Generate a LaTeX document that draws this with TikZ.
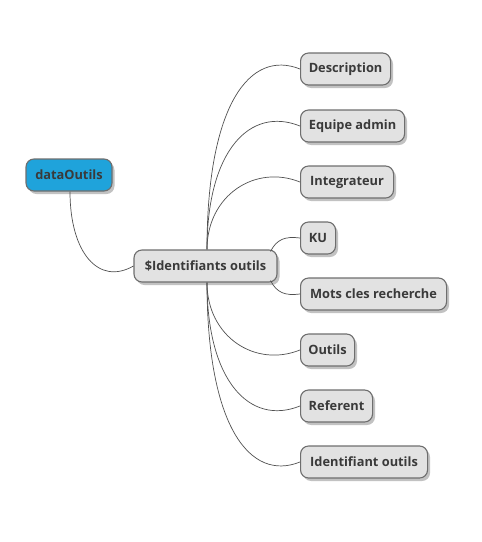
\documentclass[tikz,border=0pt]{standalone}
\usepackage{fontspec}
\setmainfont{Open Sans}
\usetikzlibrary{shadows}
\definecolor{boxfill}{HTML}{E2E2E2}
\definecolor{boxline}{HTML}{6E6E6E}
\definecolor{rootfill}{HTML}{1FA3DB}
\definecolor{txt}{HTML}{3A3A3A}
\definecolor{wire}{HTML}{505050}
\begin{document}
\begin{tikzpicture}[x=1pt,y=-1pt,
  mbox/.style={draw=boxline, line width=1.1pt, fill=boxfill, rounded corners=8pt,
    minimum height=32pt, inner xsep=0pt, inner ysep=0pt, text=txt,
    font=\fontsize{12.8}{15}\selectfont\bfseries,
    drop shadow={shadow xshift=2.5pt, shadow yshift=-3pt, opacity=0.4, fill=black!60}},
  child/.style={mbox, anchor=west},
  wirel/.style={draw=wire, line width=0.7pt}]
\useasboundingbox (0,0) rectangle (482,542);
\node[mbox, fill=rootfill, minimum width=86pt] (data) at (69,175) {dataOutils};
\node[mbox, minimum width=143pt] (id) at (205.5,266) {\$Identifiants outils};
\node[child, minimum width=90pt] (c1) at (300,69) {Description};
\node[child, minimum width=104pt] (c2) at (300,126) {Equipe admin};
\node[child, minimum width=93pt] (c3) at (300,182) {Integrateur};
\node[child, minimum width=35pt] (c4) at (300,238) {KU};
\node[child, minimum width=146pt] (c5) at (300,294) {Mots cles recherche};
\node[child, minimum width=54pt] (c6) at (300,350) {Outils};
\node[child, minimum width=72pt] (c7) at (300,406) {Referent};
\node[child, minimum width=127pt] (c8) at (300,462) {Identifiant outils};
\path[wirel] ([xshift=1pt]data.south) .. controls +(0,61) and +(-35,20) .. (id.west);
\path[wirel] ([xshift=1.5pt]id.north) .. controls +(0,-145) and +(-50,-20) .. (c1.west);
\path[wirel] ([xshift=1.5pt]id.north) .. controls +(0,-99) and +(-50,-20) .. (c2.west);
\path[wirel] ([xshift=1.5pt]id.north) .. controls +(0,-54) and +(-45,-18) .. (c3.west);
\path[wirel] ([xshift=-7pt,yshift=-2pt]id.north east) .. controls +(6,-12) and +(-15,-2) .. (c4.west);
\path[wirel] ([xshift=-7pt,yshift=2pt]id.south east) .. controls +(6,12) and +(-15,2) .. (c5.west);
\path[wirel] ([xshift=1.5pt]id.south) .. controls +(0,54) and +(-45,18) .. (c6.west);
\path[wirel] ([xshift=1.5pt]id.south) .. controls +(0,99) and +(-50,20) .. (c7.west);
\path[wirel] ([xshift=1.5pt]id.south) .. controls +(0,144) and +(-50,20) .. (c8.west);
\end{tikzpicture}
\end{document}
